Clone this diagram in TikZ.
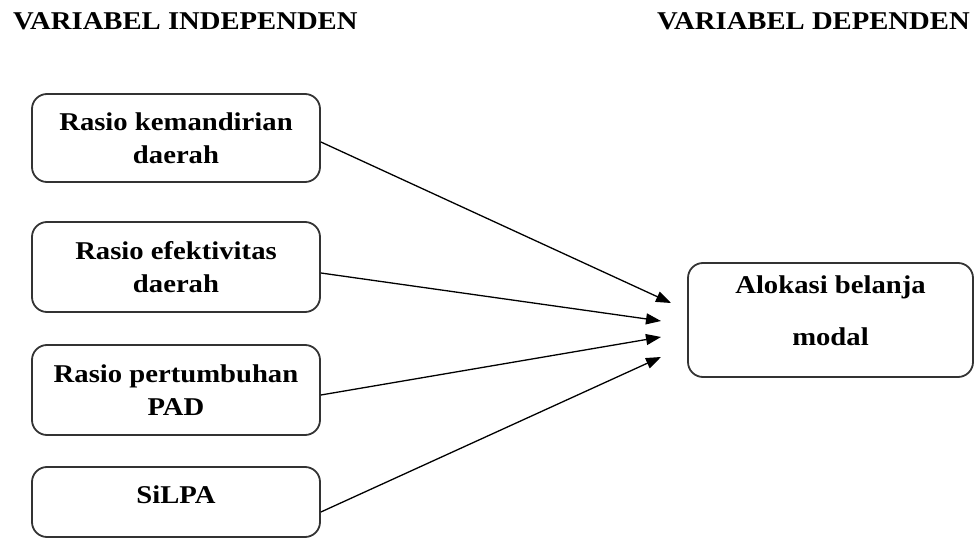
\documentclass[tikz,border=0pt]{standalone}
\usepackage{fontspec}
\setmainfont{Liberation Serif}[FakeStretch=1.12]
\usetikzlibrary{arrows.meta}
\begin{document}
\begin{tikzpicture}[x=1pt,y=-1pt,
  lbox/.style={draw=black!80, line width=1.8pt, rounded corners=15pt,
    minimum width=288pt, minimum height=88pt, align=center, inner sep=0pt,
    font=\bfseries\fontsize{25.6}{33}\selectfont},
  rbox/.style={draw=black!80, line width=1.8pt, rounded corners=15pt,
    minimum width=285pt, minimum height=114pt, align=center, inner sep=0pt,
    font=\bfseries\fontsize{25.6}{52}\selectfont, text depth=19.5pt},
  ttl/.style={anchor=base west, inner sep=0pt, font=\bfseries\fontsize{25.6}{30}\selectfont},
  arr/.style={-{Triangle[length=15pt,width=11pt]}, line width=1.3pt, black}]
\useasboundingbox (0,0) rectangle (980,540);
\node[ttl] (t1) at (13,30) {VARIABEL INDEPENDEN};
\node[ttl] (t2) at (657,30) {VARIABEL DEPENDEN};
\node[lbox] (b1) at (176,138) {Rasio kemandirian\\daerah};
\node[lbox, minimum height=90pt] (b2) at (176,267) {Rasio efektivitas\\daerah};
\node[lbox, minimum height=90pt] (b3) at (176,390) {Rasio pertumbuhan\\PAD};
\node[lbox, minimum height=70pt, text depth=15.5pt] (b4) at (176,502) {SiLPA};
\node[rbox] (y) at (830.5,320) {Alokasi belanja\\modal};
\coordinate (e1) at (671,303);
\coordinate (e2) at (661,321);
\coordinate (e3) at (661,337);
\coordinate (e4) at (661,357);
\draw[arr] (b1.east |- 0,142) -- (e1);
\draw[arr] (b2.east |- 0,273) -- (e2);
\draw[arr] (b3.east |- 0,395) -- (e3);
\draw[arr] (b4.east |- 0,512) -- (e4);
\end{tikzpicture}
\end{document}
